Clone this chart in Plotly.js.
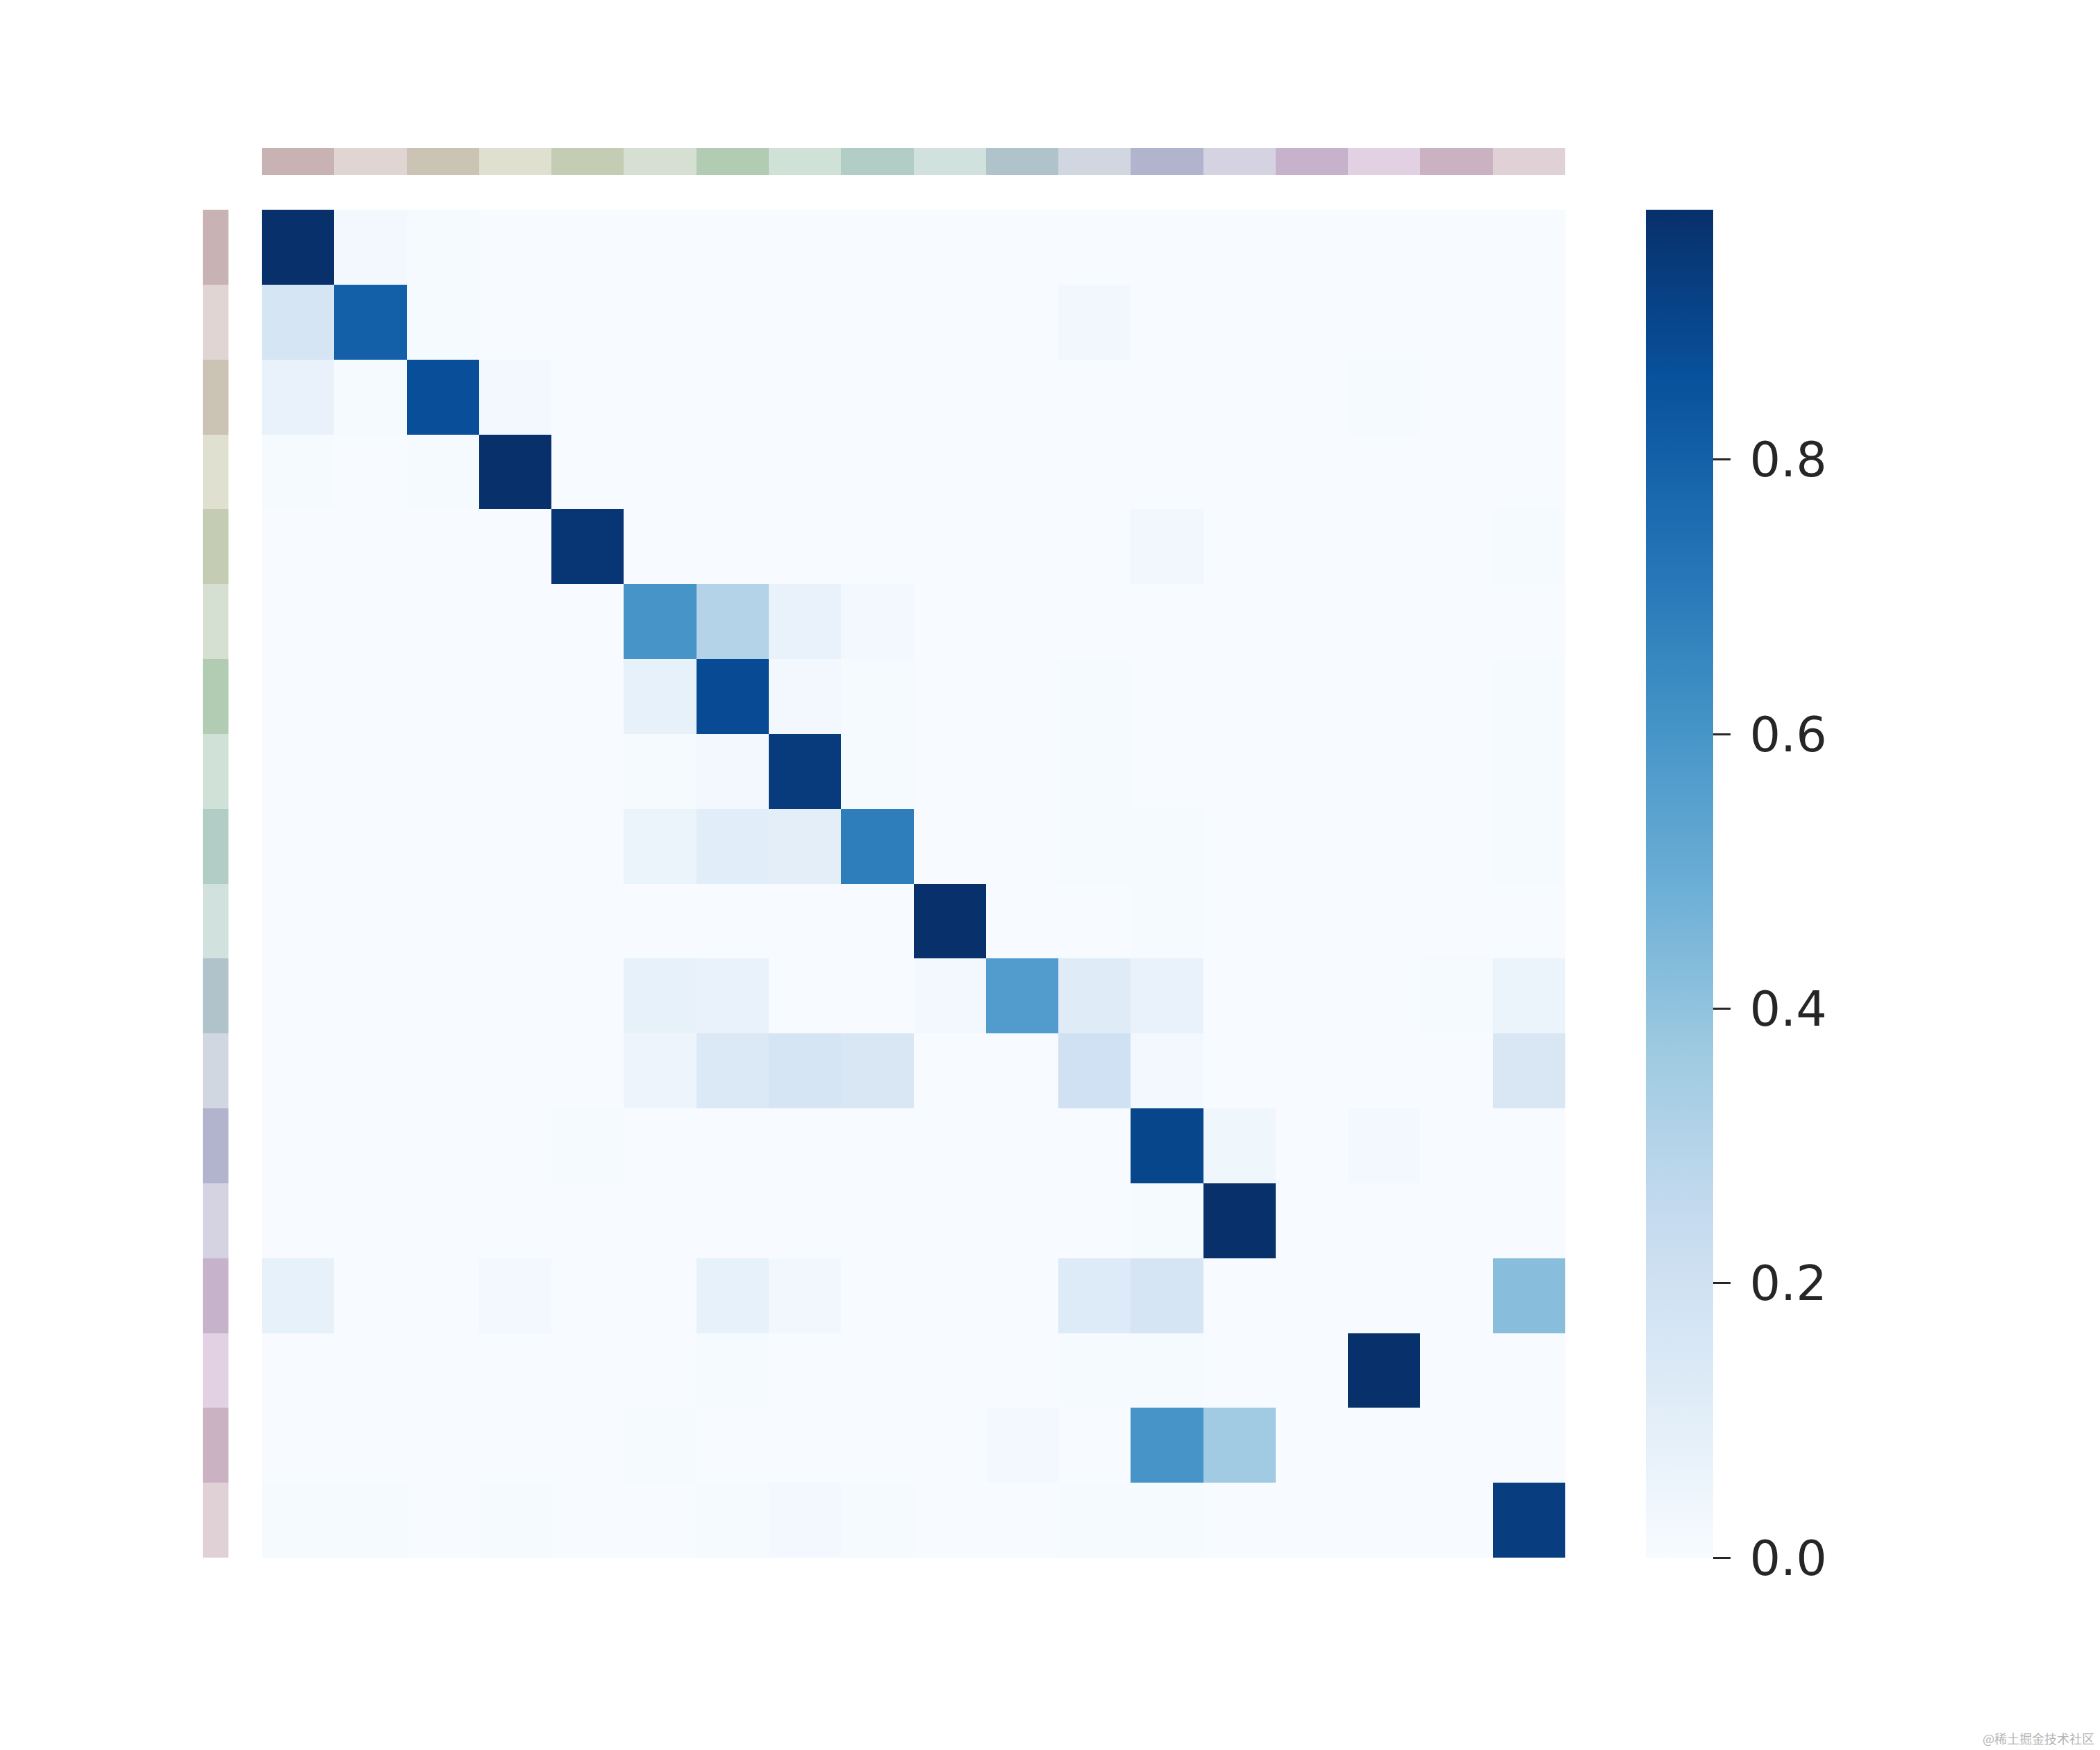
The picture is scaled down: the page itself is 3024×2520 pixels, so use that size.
<!DOCTYPE html>
<html>
<head>
<meta charset="utf-8">
<script src="https://cdn.plot.ly/plotly-3.0.1.min.js"></script>
<style>
  html, body { margin: 0; padding: 0; background: #ffffff; }
  #chart { width: 3024px; height: 2520px; }
</style>
</head>
<body>
<div id="chart"></div>
<script>
// ---- data ----
const classIndex = [0,1,2,3,4,5,6,7,8,9,10,11,12,13,14,15,16,17];

const classColors = [
  "#c9b2b3", "#e0d5d2", "#cbc3b3", "#dfe0cf", "#c4cdb3", "#d5e0d2",
  "#b2cbb3", "#d0e1d8", "#b2cdc5", "#d0e1de", "#b0c3ca", "#d1d7e1",
  "#b2b4cd", "#d5d2e2", "#c6b3cb", "#e2d1e2", "#cbb2c2", "#e0d1d6"
];

// normalized confusion matrix (rows = true class, columns = predicted class)
const row00 = [0.98,0.02,0.01,0,0,0,0,0,0,0,0,0,0,0,0,0,0,0];
const row01 = [0.17,0.80,0.01,0,0,0,0,0,0,0,0,0.03,0,0,0,0,0,0];
const row02 = [0.07,0.01,0.87,0.02,0,0,0,0,0,0,0,0,0,0,0,0.01,0,0];
const row03 = [0.01,0,0.01,0.98,0,0,0,0,0,0,0,0,0,0,0,0,0,0];
const row04 = [0,0,0,0,0.96,0,0,0,0,0,0,0,0.03,0,0,0,0,0.01];
const row05 = [0,0,0,0,0,0.60,0.30,0.07,0.02,0,0,0,0,0,0,0,0,0];
const row06 = [0,0,0,0,0,0.08,0.88,0.02,0.01,0,0,0.01,0,0,0,0,0,0.01];
const row07 = [0,0,0,0,0,0.01,0.02,0.94,0.01,0,0,0.01,0,0,0,0,0,0.01];
const row08 = [0,0,0,0,0,0.06,0.11,0.10,0.69,0,0,0.01,0.01,0,0,0,0,0.01];
const row09 = [0,0,0,0,0,0,0,0,0,0.98,0,0,0.01,0,0,0,0,0];
const row10 = [0,0,0,0,0,0.08,0.07,0,0,0.02,0.57,0.12,0.07,0,0,0,0.01,0.06];
const row11 = [0,0,0,0,0,0.05,0.14,0.17,0.15,0,0,0.20,0.02,0,0,0,0,0.15];
const row12 = [0,0,0,0,0.01,0,0,0,0,0,0,0,0.90,0.04,0,0.02,0,0];
const row13 = [0,0,0,0,0,0,0,0,0,0,0,0,0.01,0.98,0,0,0,0];
const row14 = [0.08,0,0,0.02,0,0,0.08,0.03,0,0,0,0.13,0.17,0,0,0,0,0.42];
const row15 = [0,0,0,0,0,0,0.01,0,0,0,0,0.01,0.01,0,0,0.98,0,0];
const row16 = [0,0,0,0,0,0.01,0,0,0,0,0.02,0,0.60,0.36,0,0,0,0];
const row17 = [0.01,0.01,0,0.01,0,0,0.01,0.02,0.01,0,0,0.01,0.01,0,0,0,0,0.93];

const matrix = [row00,row01,row02,row03,row04,row05,row06,row07,row08,
                row09,row10,row11,row12,row13,row14,row15,row16,row17];

const colorbarTicks = [0, 0.2, 0.4, 0.6, 0.8];
const colorbarTickText = ["0.0", "0.2", "0.4", "0.6", "0.8"];
const zMax = 0.982;
const watermarkText = "@稀土掘金技术社区";

// ---- styling ----
const W = 3024, H = 2520;
const px = v => v / W;
const py = v => 1 - v / H;

const blues = [
  [0.0, "#f7fbff"], [0.125, "#deebf7"], [0.25, "#c6dbef"], [0.375, "#9ecae1"],
  [0.5, "#6baed6"], [0.625, "#4292c6"], [0.75, "#2171b5"], [0.875, "#08519c"],
  [1.0, "#08306b"]
];

const n = classColors.length;
const stripScale = classColors.map((c, i) => [i / (n - 1), c]);

const mainTrace = {
  type: "heatmap",
  z: matrix,
  x: classIndex,
  y: classIndex,
  xaxis: "x",
  yaxis: "y",
  colorscale: blues,
  zmin: 0,
  zmax: zMax,
  hoverinfo: "skip",
  colorbar: {
    x: px(2370),
    xanchor: "left",
    xref: "paper",
    y: py(1272.5),
    yanchor: "middle",
    len: 1941 / H,
    lenmode: "fraction",
    thickness: 97,
    thicknessmode: "pixels",
    outlinewidth: 0,
    xpad: 0,
    ypad: 0,
    ticks: "outside",
    ticklen: 25,
    tickwidth: 3,
    tickcolor: "#262626",
    tickmode: "array",
    tickvals: colorbarTicks,
    ticktext: colorbarTickText.map(t => "\u2009" + t),
    tickfont: { family: "DejaVu Sans", size: 70, color: "#262626" }
  }
};

const colStrip = {
  type: "heatmap",
  z: [classIndex],
  x: classIndex,
  y: [0],
  xaxis: "x",
  yaxis: "y2",
  colorscale: stripScale,
  zmin: 0,
  zmax: n - 1,
  showscale: false,
  hoverinfo: "skip"
};

const rowStrip = {
  type: "heatmap",
  z: classIndex.map(i => [i]),
  x: [0],
  y: classIndex,
  xaxis: "x2",
  yaxis: "y",
  colorscale: stripScale,
  zmin: 0,
  zmax: n - 1,
  showscale: false,
  hoverinfo: "skip"
};

const hidden = {
  showgrid: false, zeroline: false, showticklabels: false,
  ticks: "", showline: false, fixedrange: true
};

const layout = {
  width: W,
  height: H,
  margin: { l: 0, r: 0, t: 0, b: 0, pad: 0 },
  paper_bgcolor: "#ffffff",
  plot_bgcolor: "#ffffff",
  showlegend: false,
  xaxis: Object.assign({}, hidden, {
    domain: [px(377), px(2254)], range: [-0.5, 17.5], anchor: "y"
  }),
  yaxis: Object.assign({}, hidden, {
    domain: [py(2243), py(302)], range: [17.5, -0.5], anchor: "x"
  }),
  yaxis2: Object.assign({}, hidden, {
    domain: [py(252), py(213)], range: [-0.5, 0.5], anchor: "x"
  }),
  xaxis2: Object.assign({}, hidden, {
    domain: [px(292), px(329)], range: [-0.5, 0.5], anchor: "y"
  }),
  annotations: [{
    text: watermarkText,
    xref: "paper", yref: "paper",
    x: px(3018), y: py(2503),
    xanchor: "right", yanchor: "middle",
    showarrow: false,
    font: { family: "Noto Sans CJK SC", size: 18, color: "#b4b4b4" }
  }]
};

Plotly.newPlot("chart", [mainTrace, colStrip, rowStrip], layout,
  { displayModeBar: false, staticPlot: true });
</script>
</body>
</html>
